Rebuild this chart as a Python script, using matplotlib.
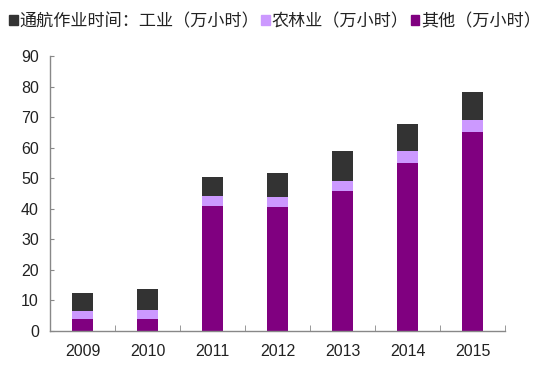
import matplotlib.pyplot as plt
import numpy as np
from matplotlib.patches import Patch

plt.rcParams['font.family'] = ['Liberation Sans', 'Noto Sans CJK SC', 'DejaVu Sans']

years = ['2009', '2010', '2011', '2012', '2013', '2014', '2015']
other = [4.0, 4.0, 41.0, 40.6, 45.7, 55.1, 65.1]
agri = [2.5, 3.0, 3.2, 3.2, 3.3, 3.9, 4.0]
industry = [5.9, 6.8, 6.2, 8.0, 10.0, 8.7, 9.1]

c_ind = '#333333'
c_agri = '#cc99ff'
c_other = '#800080'

fig = plt.figure(figsize=(5.54, 3.70), dpi=100)
ax = fig.add_axes([0.0903, 0.1054, 0.8213, 0.7432])

x = np.arange(len(years))
w = 0.33
ax.bar(x, other, w, color=c_other)
ax.bar(x, agri, w, bottom=other, color=c_agri)
bot2 = np.array(other) + np.array(agri)
ax.bar(x, industry, w, bottom=bot2, color=c_ind)

ax.set_xlim(-0.5, len(years) - 0.5)
ax.set_ylim(0, 90)
ax.set_yticks(range(0, 91, 10))
ax.set_xticks(x)
ax.set_xticklabels(years)
ax.set_xticks(np.arange(-0.5, len(years), 1), minor=True)

for s in ['top', 'right']:
    ax.spines[s].set_visible(False)
for s in ['left', 'bottom']:
    ax.spines[s].set_color('#888888')
    ax.spines[s].set_linewidth(1)

ax.tick_params(axis='y', direction='in', length=3, color='#888888',
               labelsize=11.5, labelcolor='#222222', pad=8)
ax.tick_params(axis='x', which='major', length=0, labelsize=11.5,
               labelcolor='#222222', pad=9)
ax.tick_params(axis='x', which='minor', direction='in', length=4, color='#888888')

handles = [Patch(color=c_ind), Patch(color=c_agri), Patch(color=c_other)]
labels = ['通航作业时间：工业（万小时）', '农林业（万小时）', '其他（万小时）']
fig.legend(handles, labels, loc='upper left', bbox_to_anchor=(-0.005, 1.0),
           ncol=3, frameon=False, handlelength=0.5, handleheight=0.5,
           handletextpad=0.12, columnspacing=0.1, borderaxespad=0.3,
           prop={'family': ['Noto Sans CJK SC', 'DejaVu Sans'], 'size': 12.3},
           labelcolor='#222222')

fig.savefig('out.png', dpi=100)
